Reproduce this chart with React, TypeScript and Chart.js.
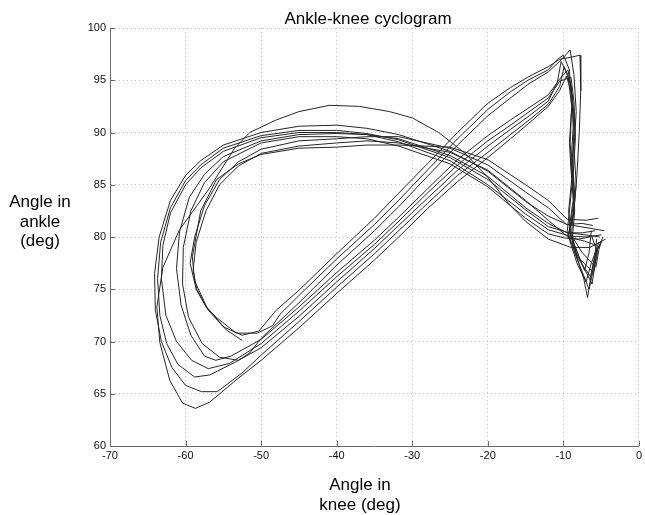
import React, { useEffect, useRef } from 'react';
import { Chart, registerables } from 'chart.js';

Chart.register(...registerables);

const titleText = 'Ankle-knee cyclogram';
const xLabelLines = ['Angle in', 'knee (deg)'];
const yLabelLines = ['Angle in', 'ankle', '(deg)'];
const xTickValues = [-70, -60, -50, -40, -30, -20, -10, 0];
const yTickValues = [60, 65, 70, 75, 80, 85, 90, 95, 100];

// Each cycle: [knee angle, ankle angle]
const cycle1: [number, number][] = [
  [-4.4, 79.8], [-6.5, 79.0], [-9.0, 79.0], [-12.0, 79.8], [-15.0, 81.5], [-17.0, 83.0], [-20.0, 85.7],
  [-23.0, 88.0], [-26.5, 90.0], [-30.0, 91.4], [-33.0, 92.0], [-37.0, 92.5], [-41.0, 92.6], [-45.0, 92.0],
  [-48.0, 91.2], [-51.5, 90.0], [-53.5, 88.5], [-57.0, 84.5], [-60.8, 80.7], [-63.0, 77.1], [-63.8, 73.3],
  [-63.4, 69.9], [-62.1, 66.3], [-60.4, 64.1], [-58.7, 63.6], [-56.8, 64.2], [-53.0, 66.5], [-50.0, 68.2],
  [-45.0, 71.3], [-40.0, 74.6], [-35.0, 77.8], [-31.8, 80.0], [-28.0, 82.7], [-24.0, 85.3], [-20.0, 87.6],
  [-17.0, 89.4], [-14.7, 90.8], [-12.0, 92.5], [-10.5, 94.0], [-9.6, 95.4], [-8.8, 93.5], [-8.6, 90.0],
  [-8.8, 86.0], [-8.6, 83.0], [-8.9, 80.5], [-8.2, 78.0], [-7.3, 76.0], [-6.8, 74.2], [-6.3, 76.5],
  [-5.6, 78.8], [-4.9, 79.6],
];
const cycle2: [number, number][] = [
  [-4.6, 80.6], [-7.0, 80.9], [-9.5, 81.2], [-12.0, 82.0], [-15.0, 83.4], [-20.0, 86.3], [-25.0, 88.2],
  [-31.8, 89.8], [-36.0, 90.4], [-40.0, 90.7], [-45.0, 90.6], [-50.0, 90.0], [-55.0, 88.8], [-58.0, 87.3],
  [-60.0, 85.9], [-62.0, 83.5], [-63.5, 80.0], [-64.1, 76.5], [-64.0, 73.0], [-63.2, 70.0], [-61.8, 67.5],
  [-60.0, 65.8], [-57.9, 65.2], [-55.8, 65.2], [-52.5, 67.0], [-50.0, 68.7], [-45.0, 71.9], [-40.0, 75.2],
  [-35.0, 78.4], [-31.8, 80.6], [-28.0, 83.2], [-24.0, 85.9], [-20.0, 88.1], [-17.0, 89.8], [-14.7, 91.1],
  [-12.0, 92.7], [-10.5, 94.4], [-9.9, 96.3], [-9.0, 94.5], [-8.5, 91.0], [-8.8, 87.5], [-8.5, 84.0],
  [-9.0, 81.5], [-9.3, 80.0], [-8.2, 77.5], [-7.0, 75.7], [-6.3, 77.5], [-5.3, 79.5],
];
const cycle3: [number, number][] = [
  [-5.2, 80.0], [-7.0, 80.2], [-9.3, 80.4], [-12.0, 81.0], [-15.0, 82.6], [-20.0, 85.5], [-25.0, 87.6],
  [-31.8, 89.3], [-36.0, 89.9], [-40.0, 90.2], [-45.0, 90.2], [-50.0, 89.7], [-55.0, 88.5], [-58.0, 86.9],
  [-60.0, 85.4], [-62.0, 82.8], [-63.3, 79.5], [-63.7, 76.0], [-63.4, 72.5], [-62.5, 69.8], [-61.0, 67.8],
  [-58.8, 66.6], [-56.8, 66.8], [-53.5, 68.0], [-50.0, 69.4], [-45.0, 72.4], [-40.0, 75.7], [-35.0, 78.9],
  [-31.8, 81.1], [-28.0, 83.7], [-24.0, 86.4], [-20.0, 88.7], [-17.0, 90.3], [-14.7, 91.5], [-12.0, 93.0],
  [-10.8, 94.8], [-10.3, 96.8], [-9.4, 95.5], [-8.9, 92.5], [-9.1, 89.0], [-8.8, 85.5], [-9.2, 82.5],
  [-9.5, 80.5], [-8.3, 78.2], [-6.4, 76.2], [-5.9, 78.0], [-5.0, 79.6],
];
const cycle4: [number, number][] = [
  [-5.0, 80.2], [-7.0, 80.0], [-9.2, 80.1], [-12.0, 80.7], [-15.0, 82.2], [-20.0, 85.0], [-25.0, 87.3],
  [-31.8, 89.1], [-36.0, 89.8], [-40.0, 90.0], [-45.0, 90.0], [-50.0, 89.5], [-55.0, 88.2], [-58.0, 86.6],
  [-60.0, 85.0], [-62.0, 82.3], [-63.0, 79.2], [-63.2, 76.0], [-62.6, 72.5], [-61.2, 70.0], [-59.2, 68.2],
  [-57.0, 67.4], [-54.2, 67.9], [-50.0, 69.8], [-45.0, 72.9], [-40.0, 76.2], [-35.0, 79.3], [-31.8, 81.5],
  [-28.0, 84.2], [-24.0, 86.9], [-20.0, 89.2], [-17.0, 90.7], [-14.7, 91.9], [-12.0, 93.3], [-10.5, 94.9],
  [-9.0, 95.3], [-8.6, 93.0], [-8.4, 89.5], [-8.7, 86.0], [-8.5, 82.5], [-8.8, 80.0], [-7.5, 78.5],
  [-5.7, 77.1], [-5.3, 78.8], [-4.8, 80.0],
];
const cycle5: [number, number][] = [
  [-5.8, 80.6], [-7.5, 80.4], [-9.5, 80.4], [-12.0, 81.3], [-15.0, 82.8], [-20.0, 85.8], [-25.0, 87.8],
  [-31.8, 89.4], [-36.0, 89.8], [-40.0, 89.9], [-45.0, 89.8], [-50.0, 89.2], [-55.0, 87.7], [-57.5, 86.0],
  [-59.5, 83.8], [-60.8, 80.5], [-61.2, 77.0], [-60.6, 73.5], [-59.3, 70.6], [-57.5, 68.6], [-56.0, 68.2],
  [-54.0, 68.6], [-50.0, 70.2], [-45.0, 73.3], [-40.0, 76.6], [-35.0, 79.7], [-31.8, 81.9], [-28.0, 84.6],
  [-24.0, 87.4], [-20.0, 89.7], [-17.0, 91.2], [-14.7, 92.3], [-12.0, 93.6], [-10.5, 95.1], [-9.4, 96.0],
  [-8.9, 94.0], [-8.7, 90.5], [-9.0, 87.0], [-8.7, 83.5], [-9.2, 81.0], [-8.5, 78.5], [-6.6, 75.0],
  [-6.0, 77.0], [-5.6, 79.8],
];
const cycle6: [number, number][] = [
  [-6.5, 80.0], [-8.0, 79.8], [-9.8, 79.9], [-12.0, 80.3], [-15.0, 81.8], [-20.0, 84.8], [-25.0, 87.0],
  [-31.8, 88.7], [-36.0, 89.4], [-40.0, 89.6], [-45.0, 89.6], [-50.0, 89.0], [-55.0, 87.2], [-57.5, 85.2],
  [-59.3, 82.5], [-60.3, 79.0], [-60.4, 75.5], [-59.6, 72.3], [-57.8, 69.8], [-55.5, 68.5], [-53.0, 68.2],
  [-51.5, 68.9], [-50.0, 70.3], [-45.0, 73.7], [-40.0, 77.3], [-35.0, 80.6], [-31.8, 82.9], [-28.0, 85.8],
  [-24.0, 88.8], [-20.0, 91.6], [-17.0, 93.3], [-14.7, 94.6], [-12.0, 95.8], [-10.5, 96.8], [-9.1, 97.9],
  [-8.6, 95.5], [-8.3, 92.0], [-8.6, 88.5], [-8.3, 85.0], [-8.7, 82.0], [-9.4, 80.2], [-8.0, 78.0],
  [-6.0, 76.6], [-5.5, 78.5], [-6.2, 80.0],
];
const cycle7: [number, number][] = [
  [-6.1, 81.1], [-7.5, 81.3], [-9.6, 81.2], [-12.0, 82.8], [-15.0, 84.3], [-20.0, 86.9], [-25.0, 88.5],
  [-31.8, 89.6], [-36.0, 89.6], [-40.0, 89.4], [-45.0, 89.2], [-50.0, 88.4], [-53.0, 87.2], [-55.5, 85.5],
  [-57.5, 83.0], [-58.8, 80.0], [-59.4, 77.5], [-58.6, 75.0], [-57.2, 73.2], [-55.9, 72.3], [-53.3, 70.8],
  [-50.5, 70.8], [-48.5, 71.5], [-47.5, 72.6], [-45.0, 74.4], [-40.0, 77.9], [-35.0, 81.2], [-31.8, 83.5],
  [-28.0, 86.4], [-24.0, 89.4], [-20.0, 92.2], [-17.0, 93.9], [-14.7, 95.0], [-12.0, 96.0], [-10.8, 97.0],
  [-10.0, 97.4], [-9.2, 96.0], [-8.9, 92.5], [-9.2, 89.0], [-8.9, 85.5], [-9.3, 82.5], [-9.0, 80.0],
  [-7.2, 76.8], [-6.6, 78.5], [-6.3, 80.6],
];
const cycle8: [number, number][] = [
  [-5.6, 79.2], [-7.2, 79.6], [-9.4, 80.0], [-12.0, 81.6], [-15.0, 83.5], [-20.0, 86.4], [-25.0, 88.1],
  [-31.8, 89.0], [-36.0, 89.2], [-40.0, 89.0], [-45.0, 88.7], [-50.0, 88.0], [-53.0, 86.8], [-55.5, 85.0],
  [-57.3, 82.5], [-58.6, 79.5], [-59.0, 76.8], [-58.5, 75.0], [-57.0, 73.0], [-55.0, 71.4], [-52.5, 70.6],
  [-50.3, 71.0], [-48.0, 73.0], [-45.0, 74.9], [-40.0, 78.4], [-35.0, 81.8], [-31.8, 84.2], [-28.0, 87.0],
  [-24.0, 90.0], [-20.0, 92.8], [-17.0, 94.3], [-14.7, 95.3], [-12.0, 96.3], [-10.5, 97.0], [-9.0, 97.2],
  [-7.8, 97.4], [-7.7, 94.0], [-7.9, 90.0], [-8.2, 86.0], [-8.6, 82.5], [-9.2, 80.5], [-7.6, 77.5],
  [-6.2, 75.5], [-5.8, 77.5], [-5.5, 79.0],
];
const cycle9: [number, number][] = [
  [-5.4, 81.8], [-7.0, 81.6], [-9.5, 81.7], [-12.0, 83.5], [-15.0, 85.0], [-20.0, 87.4], [-25.0, 88.6],
  [-31.8, 88.8], [-36.0, 88.8], [-40.0, 88.6], [-45.0, 88.5], [-50.0, 87.9], [-53.0, 87.0], [-55.9, 85.5],
  [-58.0, 82.5], [-59.1, 78.1], [-58.8, 75.8], [-57.2, 73.3], [-54.6, 71.1], [-52.5, 70.1],
];

const cycles = [cycle1, cycle2, cycle3, cycle4, cycle5, cycle6, cycle7, cycle8, cycle9];

const FONT = '"Liberation Sans", Arial, Helvetica, sans-serif';
const AXIS_COLOR = '#6a6a6a';

export default function App() {
  const ref = useRef<HTMLCanvasElement>(null);

  useEffect(() => {
    if (!ref.current) return;
    const datasets = cycles.map((c) => ({
      data: c.map(([x, y]) => ({ x, y })),
      showLine: true,
      borderColor: '#262626',
      borderWidth: 1,
      pointRadius: 0,
      pointHoverRadius: 0,
      tension: 0,
      fill: false,
    }));

    const decorPlugin = {
      id: 'decor',
      afterDraw(chart: any) {
        const ctx = chart.ctx as CanvasRenderingContext2D;
        const { left, bottom } = chart.chartArea;
        const xs = chart.scales.x;
        const ys = chart.scales.y;
        ctx.save();
        ctx.strokeStyle = AXIS_COLOR;
        ctx.lineWidth = 1;
        xTickValues.forEach((v) => {
          const px = Math.round(xs.getPixelForValue(v)) + 0.5;
          ctx.beginPath();
          ctx.moveTo(px, bottom);
          ctx.lineTo(px, bottom - 5);
          ctx.stroke();
        });
        yTickValues.forEach((v) => {
          const py = Math.round(ys.getPixelForValue(v)) + 0.5;
          ctx.beginPath();
          ctx.moveTo(left, py);
          ctx.lineTo(left + 5, py);
          ctx.stroke();
        });
        ctx.fillStyle = '#000';
        ctx.textAlign = 'center';
        ctx.textBaseline = 'alphabetic';
        ctx.font = `17px ${FONT}`;
        ctx.fillText(titleText, 368, 23.5);
        xLabelLines.forEach((t, i) => ctx.fillText(t, 360, 490 + i * 19.5));
        yLabelLines.forEach((t, i) => ctx.fillText(t, 40, 207 + i * 19.5));
        ctx.restore();
      },
    };

    const chart = new Chart(ref.current, {
      type: 'scatter',
      data: { datasets } as any,
      options: {
        animation: false,
        responsive: false,
        maintainAspectRatio: false,
        layout: { padding: { top: 28, right: 4, left: 0, bottom: 0 } },
        plugins: {
          legend: { display: false },
          tooltip: { enabled: false },
          title: { display: false },
        },
        scales: {
          x: {
            type: 'linear',
            min: -70,
            max: 0,
            afterBuildTicks: (s: any) => {
              s.ticks = xTickValues.map((v) => ({ value: v }));
            },
            ticks: {
              color: '#111',
              font: { family: FONT, size: 11 },
              padding: 3,
              maxRotation: 0,
              autoSkip: false,
            },
            grid: { color: '#c2c2c2', lineWidth: 1, drawTicks: false },
            border: { display: true, color: AXIS_COLOR, width: 1, dash: [1, 3] },
            afterFit: (s: any) => {
              s.height = 69;
            },
          },
          y: {
            type: 'linear',
            min: 60,
            max: 100,
            afterBuildTicks: (s: any) => {
              s.ticks = yTickValues.map((v) => ({ value: v }));
            },
            ticks: {
              color: '#111',
              font: { family: FONT, size: 11 },
              padding: 4,
              autoSkip: false,
            },
            grid: { color: '#c2c2c2', lineWidth: 1, drawTicks: false },
            border: { display: true, color: AXIS_COLOR, width: 1, dash: [1, 3] },
            afterFit: (s: any) => {
              s.width = 110;
            },
          },
        },
      } as any,
      plugins: [decorPlugin],
    });
    return () => chart.destroy();
  }, []);

  return (
    <div style={{ position: 'absolute', left: 0, top: 0, width: 645, height: 515, background: '#fff' }}>
      <canvas ref={ref} width={645} height={515} style={{ width: 645, height: 515, display: 'block' }} />
    </div>
  );
}
